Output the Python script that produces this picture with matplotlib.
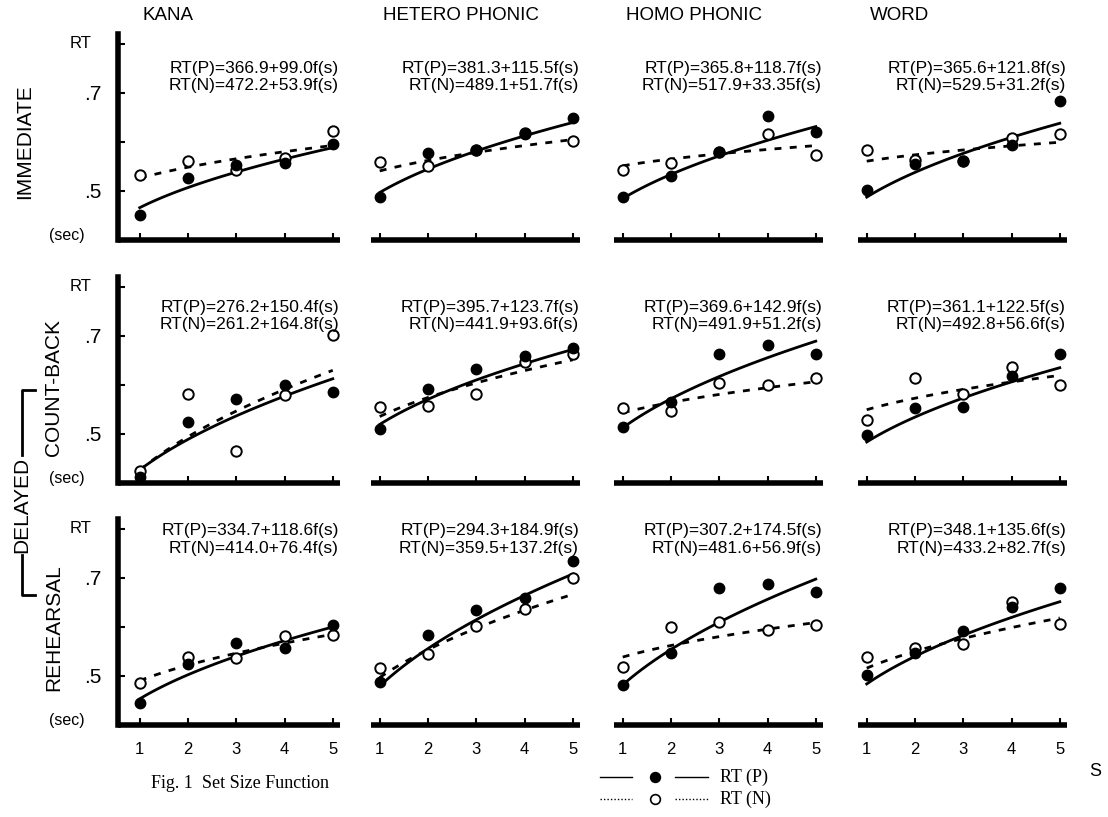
import numpy as np
import matplotlib
matplotlib.use("Agg")
import matplotlib.pyplot as plt
from matplotlib.lines import Line2D

# --- data (RT in sec) ---
set_size = [1, 2, 3, 4, 5]
materials = ["KANA", "HETERO PHONIC", "HOMO PHONIC", "WORD"]
conditions = ["IMMEDIATE", "COUNT-BACK", "REHEARSAL"]

# RT(P) points, rows = condition, cols = material
rt_p = [
    [[0.451, 0.526, 0.553, 0.556, 0.595],
     [0.488, 0.577, 0.584, 0.616, 0.648],
     [0.488, 0.531, 0.580, 0.652, 0.620],
     [0.502, 0.554, 0.561, 0.594, 0.684]],
    [[0.412, 0.525, 0.571, 0.600, 0.585],
     [0.510, 0.592, 0.633, 0.659, 0.675],
     [0.514, 0.565, 0.663, 0.682, 0.663],
     [0.497, 0.553, 0.554, 0.619, 0.663]],
    [[0.444, 0.524, 0.567, 0.558, 0.604],
     [0.488, 0.584, 0.635, 0.658, 0.734],
     [0.481, 0.546, 0.679, 0.688, 0.671],
     [0.502, 0.547, 0.592, 0.640, 0.679]],
]
# RT(N) points
rt_n = [
    [[0.533, 0.561, 0.543, 0.568, 0.623],
     [0.559, 0.551, 0.584, 0.618, 0.602],
     [0.543, 0.558, 0.580, 0.616, 0.573],
     [0.584, 0.563, 0.561, 0.607, 0.616]],
    [[0.425, 0.582, 0.466, 0.580, 0.702],
     [0.554, 0.558, 0.582, 0.646, 0.662],
     [0.552, 0.546, 0.604, 0.600, 0.614],
     [0.529, 0.614, 0.582, 0.636, 0.600]],
    [[0.485, 0.538, 0.536, 0.581, 0.584],
     [0.517, 0.545, 0.601, 0.636, 0.699],
     [0.518, 0.599, 0.610, 0.594, 0.603],
     [0.539, 0.558, 0.565, 0.651, 0.606]],
]
# fitted equations RT = a + b f(s)  (msec), f(s) = sqrt(s)
fit_p = [
    [(366.9, 99.0), (381.3, 115.5), (365.8, 118.7), (365.6, 121.8)],
    [(276.2, 150.4), (395.7, 123.7), (369.6, 142.9), (361.1, 122.5)],
    [(334.7, 118.6), (294.3, 184.9), (307.2, 174.5), (348.1, 135.6)],
]
fit_n = [
    [(472.2, 53.9), (489.1, 51.7), (517.9, 33.35), (529.5, 31.2)],
    [(261.2, 164.8), (441.9, 93.6), (491.9, 51.2), (492.8, 56.6)],
    [(414.0, 76.4), (359.5, 137.2), (481.6, 56.9), (433.2, 82.7)],
]

W, H = 1108, 817
fig = plt.figure(figsize=(W / 100, H / 100), dpi=100)
sans = "Liberation Sans"
serif = "Liberation Serif"

col_left = [118, 358, 601, 845]
row_bottom = [240, 483, 725]
ax_w, ax_h = 222, 206
eq_y = [0.79, 0.81, 0.90]

def num(v):
    s = f"{v:g}"
    return s if "." in s else s + ".0"

s_fine = np.linspace(1, 5, 100)
for r in range(3):
    for c in range(4):
        ax = fig.add_axes([col_left[c] / W, 1 - row_bottom[r] / H, ax_w / W, ax_h / H])
        ax.set_xlim(0.55, 5.15)
        ax.set_ylim(0.40, 0.82)
        a, b = fit_p[r][c]
        ax.plot(s_fine, (a + b * np.sqrt(s_fine)) / 1000, color="black", lw=2.0)
        a2, b2 = fit_n[r][c]
        ax.plot(s_fine, (a2 + b2 * np.sqrt(s_fine)) / 1000, color="black", lw=2.0,
                ls=(0, (2.5, 3.0)))
        ax.plot(set_size, rt_n[r][c], "o", ms=7.5, mfc="white", mec="black", mew=1.4,
                ls="none", zorder=3)
        ax.plot(set_size, rt_p[r][c], "o", ms=7.5, mfc="black", mec="black",
                ls="none", zorder=4)

        for side in ["top", "right"]:
            ax.spines[side].set_visible(False)
        ax.spines["bottom"].set_linewidth(4)
        ax.spines["left"].set_linewidth(4)
        ax.spines["bottom"].set_capstyle("butt")
        ax.set_xticks(set_size)
        ax.tick_params(axis="x", direction="in", length=5, width=1.5, pad=12,
                       labelsize=12, labelfontfamily=sans)
        if r < 2:
            ax.set_xticklabels([])
        if c == 0:
            ax.set_yticks([0.5, 0.6, 0.7, 0.8])
            ax.set_yticklabels([".5", "", ".7", ""])
            ax.tick_params(axis="y", direction="in", length=5, width=1.5, pad=12,
                           labelsize=15, labelfontfamily=sans)
            ax.text(-0.17, 0.8, "RT", transform=ax.get_yaxis_transform(), fontsize=12,
                    family=sans, ha="center", va="center")
            ax.text(-0.23, 0.41, "(sec)", transform=ax.get_yaxis_transform(),
                    fontsize=11.5, family=sans, ha="center", va="center")
        else:
            ax.spines["left"].set_visible(False)
            ax.spines["bottom"].set_bounds(0.81, 5.15)
            ax.set_yticks([])

        eq = f"RT(P)={num(a)}+{num(b)}f(s)\nRT(N)={num(a2)}+{num(b2)}f(s)"
        ax.text(0.995, eq_y[r], eq, transform=ax.transAxes, ha="right", va="center",
                fontsize=12.5, family=sans, linespacing=1.2)

# column titles
for c, name in enumerate(materials):
    fig.text((col_left[c] + 25) / W, 1 - 16 / H, name, fontsize=13.5, family=sans,
             ha="left", va="center")

# row labels
fig.text(25 / W, 1 - 142 / H, conditions[0], rotation=90, fontsize=15, family=sans,
         ha="center", va="center")
fig.text(54 / W, 1 - 388 / H, conditions[1], rotation=90, fontsize=15, family=sans,
         ha="center", va="center")
fig.text(54 / W, 1 - 628 / H, conditions[2], rotation=90, fontsize=15, family=sans,
         ha="center", va="center")
fig.text(22 / W, 1 - 505 / H, "DELAYED", rotation=90, fontsize=15, family=sans,
         ha="center", va="center")
# bracket for DELAYED
bx = 22 / W
fig.add_artist(Line2D([bx, bx, 35 / W], [1 - 455 / H, 1 - 390 / H, 1 - 390 / H],
                      color="black", lw=2, transform=fig.transFigure))
fig.add_artist(Line2D([bx, bx, 35 / W], [1 - 555 / H, 1 - 595 / H, 1 - 595 / H],
                      color="black", lw=2, transform=fig.transFigure))

fig.text(1095 / W, 1 - 772 / H, "S", fontsize=13, family=sans, ha="center", va="center")

# caption
fig.text(240 / W, 1 - 784 / H, "Fig. 1  Set Size Function", fontsize=13, family=serif,
         ha="center", va="center")

# legend
for yy, style, face, label in [(777, "-", "black", "RT (P)"), (799, (0, (1, 1.5)), "white", "RT (N)")]:
    fy = 1 - yy / H
    fig.add_artist(Line2D([600 / W, 632 / W], [fy, fy], color="black", lw=1.0, ls=style,
                          transform=fig.transFigure))
    fig.add_artist(Line2D([675 / W, 708 / W], [fy, fy], color="black", lw=1.0, ls=style,
                          transform=fig.transFigure))
    fig.add_artist(Line2D([655 / W], [fy], marker="o", ms=7, mfc=face, mec="black",
                          mew=1.2, ls="none", transform=fig.transFigure))
    fig.text(720 / W, fy, label, fontsize=13, family=serif, ha="left", va="center")

fig.savefig("out.png", dpi=100)
